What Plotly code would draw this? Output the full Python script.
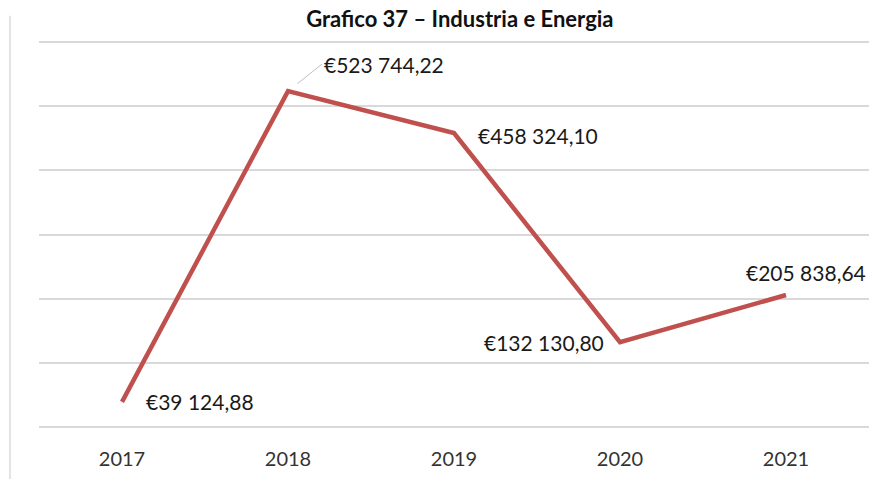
import plotly.graph_objects as go

years = [2017, 2018, 2019, 2020, 2021]
values = [39124.88, 523744.22, 458324.10, 132130.80, 205838.64]
labels = ["€39 124,88", "€523 744,22", "€458 324,10", "€132 130,80", "€205 838,64"]
grid_vals = [0, 100000, 200000, 300000, 400000, 500000, 600000]

line_color = "#C0504D"
font_family = "Lato, 'Open Sans', sans-serif"
label_font = dict(family=font_family, size=21, color="#1a1a1a")

fig = go.Figure()
fig.add_trace(go.Scatter(
    x=years, y=values, mode="lines",
    line=dict(color=line_color, width=4.5),
    hoverinfo="skip", showlegend=False,
))

placements = [
    dict(xanchor="left", yanchor="middle", xshift=22, yshift=0),
    dict(xanchor="left", yanchor="middle", xshift=0, yshift=0),
    dict(xanchor="left", yanchor="middle", xshift=22, yshift=-2),
    dict(xanchor="right", yanchor="middle", xshift=-14, yshift=0),
    dict(xanchor="center", yanchor="bottom", xshift=20, yshift=8),
]
for i, (x, y, t) in enumerate(zip(years, values, labels)):
    p = placements[i]
    if i == 1:
        fig.add_annotation(x=x, y=y, text=t, showarrow=True, arrowhead=0,
                           arrowwidth=1, arrowcolor="#BFBFBF", ax=34, ay=-27,
                           xanchor="left", yanchor="middle", standoff=12,
                           font=label_font)
    else:
        fig.add_annotation(x=x, y=y, text=t, showarrow=False, font=label_font, **p)

fig.add_shape(type="line", xref="paper", yref="paper", x0=-0.035, x1=-0.035,
              y0=-0.16, y1=1.06, line=dict(color="#E3E3E3", width=2))

fig.update_layout(
    width=874, height=471,
    margin=dict(l=31, r=13, t=31, b=52, autoexpand=False),
    paper_bgcolor="white", plot_bgcolor="white",
    title=dict(text="<b>Grafico 37 – Industria e Energia</b>", x=0.517, xanchor="center",
               y=0.975, yanchor="middle",
               font=dict(family=font_family, size=22, color="#111111")),
    font=dict(family=font_family, size=20, color="#333333"),
    xaxis=dict(type="linear", range=[2016.5, 2021.5], tickmode="array",
               tickvals=years, ticktext=[str(y) for y in years],
               showgrid=False, showline=False, zeroline=False, automargin=False,
               ticks="outside", ticklen=14, tickcolor="rgba(0,0,0,0)",
               tickfont=dict(size=20, color="#333333")),
    yaxis=dict(range=[0, 605000], tickmode="array", tickvals=grid_vals,
               showticklabels=False, automargin=False,
               showgrid=True, gridcolor="#D9D9D9", gridwidth=2,
               zeroline=True, zerolinecolor="#D9D9D9", zerolinewidth=2),
)

fig.write_html("out.html")
